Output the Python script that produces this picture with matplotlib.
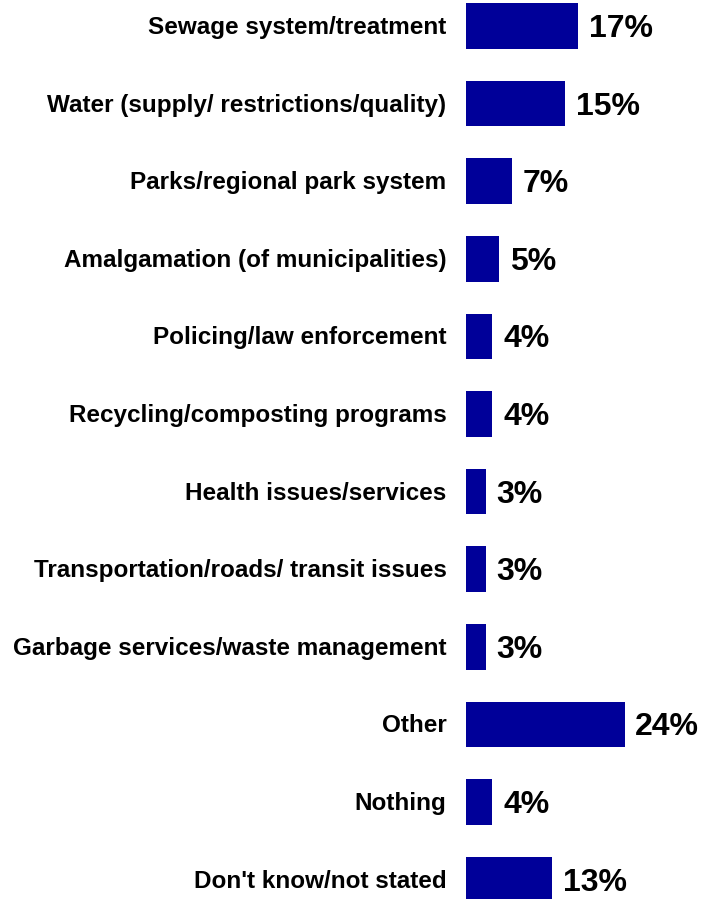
import matplotlib.pyplot as plt
import matplotlib.transforms as mtransforms

categories = ["Sewage system/treatment",
              "Water (supply/ restrictions/quality)",
              "Parks/regional park system",
              "Amalgamation (of municipalities)",
              "Policing/law enforcement",
              "Recycling/composting programs",
              "Health issues/services",
              "Transportation/roads/ transit issues",
              "Garbage services/waste management",
              "Other",
              "Nothing",
              "Don't know/not stated"]
values = [17, 15, 7, 5, 4, 4, 3, 3, 3, 24, 4, 13]

plt.rcParams['font.family'] = ['Liberation Sans', 'DejaVu Sans']

fig = plt.figure(figsize=(7.04, 8.99), dpi=100)
ax = fig.add_axes([466 / 704, 0, 238 / 704, 1])

pos = list(range(len(categories)))
ax.barh(pos, values, height=0.59, color='#000099')

# value labels, pushed down a bit so the digits sit on the bar centre
down = mtransforms.ScaledTranslation(0, -3 / 100, fig.dpi_scale_trans)
for y, v in zip(pos, values):
    ax.text(v + 1.6, y, f"{v}%", va='center', ha='left',
            fontsize=23, fontweight='bold', transform=ax.transData + down)

ax.set_xlim(0, 36)
ax.set_ylim(11.25, -0.335)
ax.set_yticks(pos)
ax.set_yticklabels(categories, fontsize=17.5, fontweight='bold')
ax.tick_params(axis='y', length=0, pad=14)
up = mtransforms.ScaledTranslation(0, 1 / 100, fig.dpi_scale_trans)
for lab in ax.get_yticklabels():
    lab.set_transform(lab.get_transform() + up)
ax.set_xticks([])
for s in ax.spines.values():
    s.set_visible(False)

fig.savefig('out.png', dpi=100)
